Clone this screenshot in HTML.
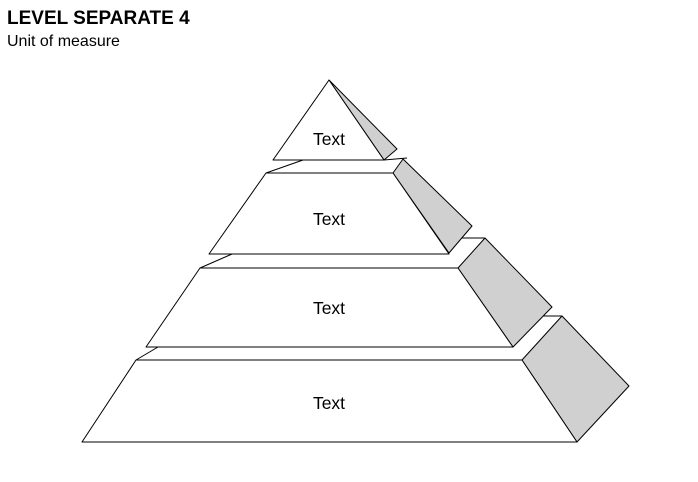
<!DOCTYPE html>
<html><head><style>
body{margin:0;background:#fff;width:698px;height:482px;overflow:hidden;font-family:"Liberation Sans",Arial,sans-serif;}
</style></head><body>
<svg width="698" height="482" xmlns="http://www.w3.org/2000/svg" style="position:absolute;left:0;top:0">
<text x="7" y="24" font-family="Liberation Sans, Arial, sans-serif" font-weight="bold" font-size="19" fill="#000">LEVEL SEPARATE 4</text>
<text x="7" y="46" font-family="Liberation Sans, Arial, sans-serif" font-size="16" fill="#000">Unit of measure</text>
<g stroke="#000" stroke-width="1" stroke-linejoin="round">
<polygon points="329,80 397,149 384,160" fill="#d0d0d0"/>
<polygon points="329,80 384,160 273,160" fill="#fff"/>
<polyline points="303,160 266,173" fill="none"/>
<polyline points="384,160 407,158" fill="none"/>
<polygon points="393,173 403,159 472,226 449,253" fill="#d0d0d0"/>
<polygon points="266,173 393,173 449,254 209,254" fill="#fff"/>
<polyline points="232,254 200,268" fill="none"/>
<polyline points="462,238 485,238" fill="none"/>
<polygon points="458,268 485,238 552,307 513,347" fill="#d0d0d0"/>
<polygon points="200,268 458,268 513,347 146,347" fill="#fff"/>
<polyline points="158,347 136,360" fill="none"/>
<polyline points="543,316 562,316" fill="none"/>
<polygon points="522,360 562,316 629,386 577,442" fill="#d0d0d0"/>
<polygon points="136,360 522,360 577,442 82,442" fill="#fff"/>
</g>
<g font-family="Liberation Sans, Arial, sans-serif" font-size="17.5" fill="#000" text-anchor="middle">
<text x="329" y="145">Text</text>
<text x="329" y="225">Text</text>
<text x="329" y="314">Text</text>
<text x="329" y="409">Text</text>
</g>
</svg>
</body></html>
